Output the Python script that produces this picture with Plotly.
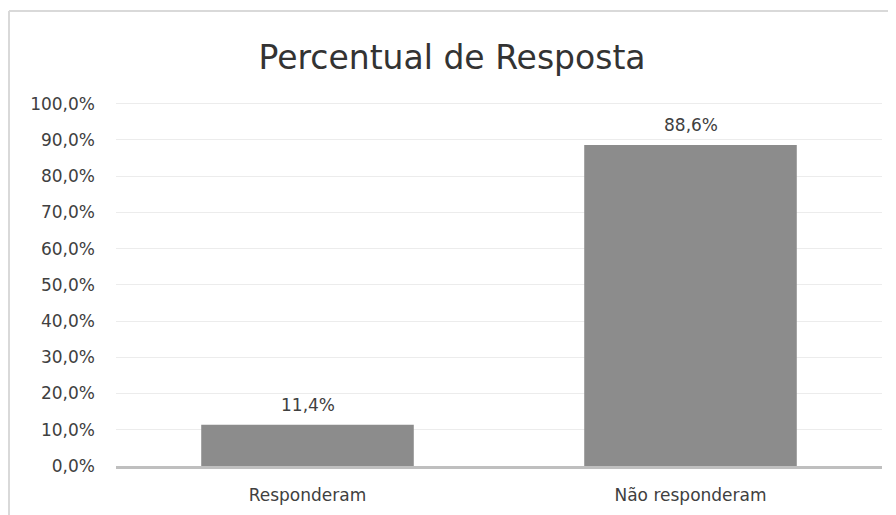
import plotly.graph_objects as go

# dados do gráfico
categorias = ["Responderam", "Não responderam"]
percentuais = [0.114, 0.886]
rotulos = ["11,4%", "88,6%"]
ticks_y = [i / 10 for i in range(11)]
ticks_y_texto = [f"{i * 10},0%" for i in range(11)]

COR_BARRA = "#8c8c8c"
COR_TEXTO = "#404040"
FONTE = "DejaVu Sans, Open Sans, sans-serif"

fig = go.Figure()
fig.add_trace(
    go.Bar(
        x=categorias,
        y=percentuais,
        marker=dict(color=COR_BARRA, line=dict(width=0)),
        width=0.555,
        hoverinfo="skip",
    )
)

# rótulos de dados acima das barras
for cat, val, txt in zip(categorias, percentuais, rotulos):
    fig.add_annotation(
        x=cat,
        y=val,
        text=txt,
        showarrow=False,
        yanchor="bottom",
        yshift=8,
        font=dict(family=FONTE, size=17, color=COR_TEXTO),
    )

# borda da área do gráfico (estilo Excel)
fig.add_shape(
    type="line", xref="paper", yref="paper",
    x0=-0.1397, x1=-0.1397, y0=1.243, y1=-0.3,
    line=dict(color="#d9d9d9", width=2),
)
fig.add_shape(
    type="line", xref="paper", yref="paper",
    x0=-0.1397, x1=1.1, y0=1.243, y1=1.243,
    line=dict(color="#d9d9d9", width=2),
)

# a página tem margem de 8px no body, por isso a figura é 8px menor
fig.update_layout(
    width=888,
    height=507,
    margin=dict(l=108, r=14, t=92, b=49),
    paper_bgcolor="white",
    plot_bgcolor="white",
    showlegend=False,
    title=dict(
        text="Percentual de Resposta",
        x=0.5,
        xanchor="center",
        y=0.903,
        yanchor="middle",
        font=dict(family=FONTE, size=33, color="#333333"),
    ),
    font=dict(family=FONTE, color=COR_TEXTO),
)
fig.update_xaxes(
    automargin=False,
    showgrid=False,
    showline=True,
    linecolor="#bfbfbf",
    linewidth=3,
    ticks="",
    ticklabelstandoff=12,
    tickfont=dict(family=FONTE, size=17, color=COR_TEXTO),
)
fig.update_yaxes(
    automargin=False,
    range=[0, 1.01],
    tickvals=ticks_y,
    ticktext=ticks_y_texto,
    showgrid=True,
    gridcolor="#ececec",
    gridwidth=1,
    zeroline=False,
    showline=False,
    ticks="",
    ticklabelstandoff=20,
    tickfont=dict(family=FONTE, size=17, color=COR_TEXTO),
)

fig.write_html("out.html")
